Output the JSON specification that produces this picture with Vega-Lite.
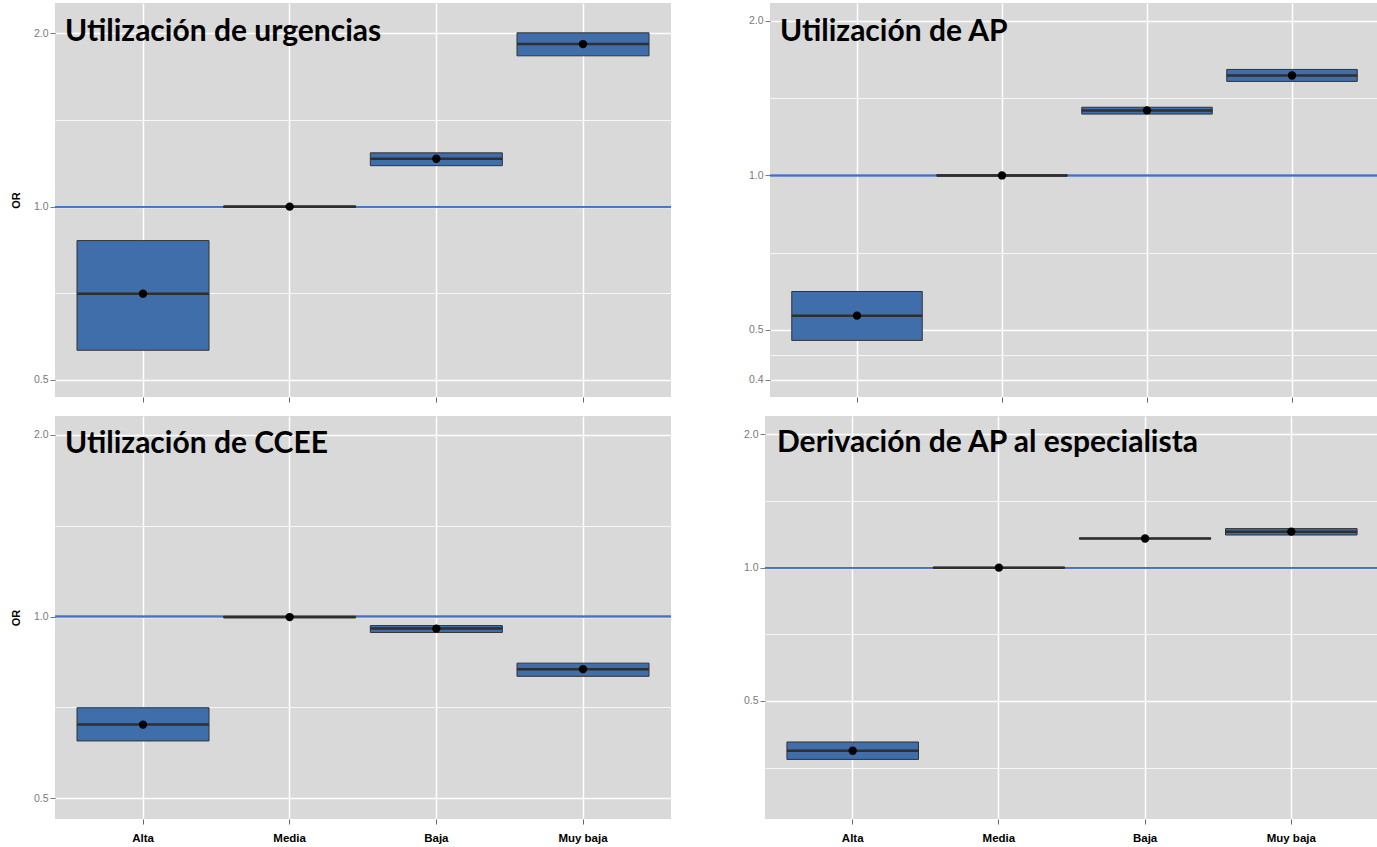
{
  "$schema": "https://vega.github.io/schema/vega-lite/v6.json",
  "padding": {"left": 10, "top": 3, "right": 0, "bottom": 0},
  "background": "white",
  "datasets": {
    "boxes": [
      {"panel": "urg", "cat": "Alta", "lower": 0.563, "median": 0.706, "upper": 0.873},
      {"panel": "urg", "cat": "Media", "lower": 0.997, "median": 1.0, "upper": 1.003},
      {"panel": "urg", "cat": "Baja", "lower": 1.178, "median": 1.211, "upper": 1.24},
      {"panel": "urg", "cat": "Muy baja", "lower": 1.828, "median": 1.916, "upper": 2.004},
      {"panel": "ap", "cat": "Alta", "lower": 0.477, "median": 0.533, "upper": 0.594},
      {"panel": "ap", "cat": "Media", "lower": 0.997, "median": 1.0, "upper": 1.003},
      {"panel": "ap", "cat": "Baja", "lower": 1.317, "median": 1.339, "upper": 1.358},
      {"panel": "ap", "cat": "Muy baja", "lower": 1.525, "median": 1.566, "upper": 1.609},
      {"panel": "ccee", "cat": "Alta", "lower": 0.622, "median": 0.662, "upper": 0.706},
      {"panel": "ccee", "cat": "Media", "lower": 0.995, "median": 0.998, "upper": 1.0},
      {"panel": "ccee", "cat": "Baja", "lower": 0.941, "median": 0.955, "upper": 0.966},
      {"panel": "ccee", "cat": "Muy baja", "lower": 0.796, "median": 0.818, "upper": 0.837},
      {"panel": "der", "cat": "Alta", "lower": 0.369, "median": 0.386, "upper": 0.404},
      {"panel": "der", "cat": "Media", "lower": 0.998, "median": 1.0, "upper": 1.002},
      {"panel": "der", "cat": "Baja", "lower": 1.162, "median": 1.164, "upper": 1.166},
      {"panel": "der", "cat": "Muy baja", "lower": 1.185, "median": 1.206, "upper": 1.225}
    ]
  },
  "config": {
    "view": {"fill": "#D9D9D9", "stroke": null},
    "title": {"font": "Lato", "fontSize": 30, "fontWeight": "bold", "color": "black", "anchor": "start", "frame": "group", "baseline": "alphabetic"},
    "axisY": {"grid": true, "labelFont": "Liberation Sans", "labelFontSize": 10.5, "labelColor": "#7A7A7A", "tickColor": "#7A7A7A", "tickSize": 5, "labelPadding": 2, "domain": false, "gridColor": "white", "titleFont": "Liberation Sans", "titleFontSize": 11, "titleFontWeight": "bold", "titleColor": "black", "titlePadding": 12},
    "axisX": {"domain": false, "tickColor": "#666666", "tickSize": 5, "labelFont": "Liberation Sans", "labelFontSize": 11.5, "labelFontWeight": "bold", "labelColor": "black", "labelPadding": 8, "labelAngle": 0, "grid": true, "gridColor": "white", "gridWidth": 1.5, "bandPosition": 0.5}
  },
  "vconcat": [
    {
      "hconcat": [
        {
          "width": 616, "height": 394,
          "title": {"text": "Utilización de urgencias", "offset": -44, "dx": 10},
          "transform": [{"filter": "datum.panel == 'urg'"}],
          "data": {"name": "boxes"},
          "layer": [
            {"mark": {"type": "rule", "color": "#4472C4", "strokeWidth": 1.5}, "encoding": {"y": {"datum": 1}}},
            {
              "mark": {"type": "bar", "fill": "#3F6EAB", "stroke": "#333333", "strokeWidth": 1},
              "encoding": {
                "x": {"field": "cat", "type": "nominal", "sort": ["Alta", "Media", "Baja", "Muy baja"], "scale": {"paddingInner": 0.1, "paddingOuter": 0.15}, "axis": {"title": null, "labels": false}},
                "y": {"field": "lower", "type": "quantitative", "scale": {"type": "log", "domain": [0.467, 2.258], "nice": false, "zero": false}, "title": "OR",
                  "axis": {"grid": true, "values": [0.5, 0.7071, 1, 1.4142, 2], "labelExpr": "indexof([0.5,1,2], datum.value) >= 0 ? format(datum.value, '.1f') : ''", "tickOpacity": {"condition": {"test": "indexof([0.5,1,2], datum.value) >= 0", "value": 1}, "value": 0}, "gridWidth": {"condition": {"test": "indexof([0.5,1,2], datum.value) >= 0", "value": 1.6}, "value": 0.8}}},
                "y2": {"field": "upper"}
              }
            },
            {"mark": {"type": "tick", "color": "#2F2F2F", "thickness": 2.5, "size": 132, "opacity": 1}, "encoding": {"x": {"field": "cat", "type": "nominal", "sort": ["Alta", "Media", "Baja", "Muy baja"]}, "y": {"field": "median", "type": "quantitative"}}},
            {"mark": {"type": "point", "filled": true, "color": "black", "size": 70, "opacity": 1}, "encoding": {"x": {"field": "cat", "type": "nominal", "sort": ["Alta", "Media", "Baja", "Muy baja"]}, "y": {"field": "median", "type": "quantitative"}}}
          ]
        },
        {
          "width": 609, "height": 394,
          "title": {"text": "Utilización de AP", "offset": -44, "dx": 10},
          "transform": [{"filter": "datum.panel == 'ap'"}],
          "data": {"name": "boxes"},
          "layer": [
            {"mark": {"type": "rule", "color": "#4472C4", "strokeWidth": 1.5}, "encoding": {"y": {"datum": 1}}},
            {
              "mark": {"type": "bar", "fill": "#3F6EAB", "stroke": "#333333", "strokeWidth": 1},
              "encoding": {
                "x": {"field": "cat", "type": "nominal", "sort": ["Alta", "Media", "Baja", "Muy baja"], "scale": {"paddingInner": 0.1, "paddingOuter": 0.15}, "axis": {"title": null, "labels": false}},
                "y": {"field": "lower", "type": "quantitative", "scale": {"type": "log", "domain": [0.37, 2.168], "nice": false, "zero": false}, "title": null,
                  "axis": {"grid": true, "values": [0.4, 0.4472, 0.5, 0.7071, 1, 1.4142, 2], "labelExpr": "indexof([0.4,0.5,1,2], datum.value) >= 0 ? format(datum.value, '.1f') : ''", "tickOpacity": {"condition": {"test": "indexof([0.4,0.5,1,2], datum.value) >= 0", "value": 1}, "value": 0}, "gridWidth": {"condition": {"test": "indexof([0.4,0.5,1,2], datum.value) >= 0", "value": 1.6}, "value": 0.8}}},
                "y2": {"field": "upper"}
              }
            },
            {"mark": {"type": "tick", "color": "#2F2F2F", "thickness": 2.5, "size": 130.5, "opacity": 1}, "encoding": {"x": {"field": "cat", "type": "nominal", "sort": ["Alta", "Media", "Baja", "Muy baja"]}, "y": {"field": "median", "type": "quantitative"}}},
            {"mark": {"type": "point", "filled": true, "color": "black", "size": 70, "opacity": 1}, "encoding": {"x": {"field": "cat", "type": "nominal", "sort": ["Alta", "Media", "Baja", "Muy baja"]}, "y": {"field": "median", "type": "quantitative"}}}
          ]
        }
      ],
      "spacing": 76
    },
    {
      "hconcat": [
        {
          "width": 616, "height": 403,
          "title": {"text": "Utilización de CCEE", "offset": -43, "dx": 10},
          "transform": [{"filter": "datum.panel == 'ccee'"}],
          "data": {"name": "boxes"},
          "layer": [
            {"mark": {"type": "rule", "color": "#4472C4", "strokeWidth": 1.5}, "encoding": {"y": {"datum": 1}}},
            {
              "mark": {"type": "bar", "fill": "#3F6EAB", "stroke": "#333333", "strokeWidth": 1},
              "encoding": {
                "x": {"field": "cat", "type": "nominal", "sort": ["Alta", "Media", "Baja", "Muy baja"], "scale": {"paddingInner": 0.1, "paddingOuter": 0.15}, "axis": {"title": null}},
                "y": {"field": "lower", "type": "quantitative", "scale": {"type": "log", "domain": [0.4617, 2.15], "nice": false, "zero": false}, "title": "OR",
                  "axis": {"grid": true, "values": [0.5, 0.7071, 1, 1.4142, 2], "labelExpr": "indexof([0.5,1,2], datum.value) >= 0 ? format(datum.value, '.1f') : ''", "tickOpacity": {"condition": {"test": "indexof([0.5,1,2], datum.value) >= 0", "value": 1}, "value": 0}, "gridWidth": {"condition": {"test": "indexof([0.5,1,2], datum.value) >= 0", "value": 1.6}, "value": 0.8}}},
                "y2": {"field": "upper"}
              }
            },
            {"mark": {"type": "tick", "color": "#2F2F2F", "thickness": 2.5, "size": 132, "opacity": 1}, "encoding": {"x": {"field": "cat", "type": "nominal", "sort": ["Alta", "Media", "Baja", "Muy baja"]}, "y": {"field": "median", "type": "quantitative"}}},
            {"mark": {"type": "point", "filled": true, "color": "black", "size": 70, "opacity": 1}, "encoding": {"x": {"field": "cat", "type": "nominal", "sort": ["Alta", "Media", "Baja", "Muy baja"]}, "y": {"field": "median", "type": "quantitative"}}}
          ]
        },
        {
          "width": 614, "height": 403,
          "title": {"text": "Derivación de AP al especialista", "offset": -42, "dx": 12},
          "transform": [{"filter": "datum.panel == 'der'"}],
          "data": {"name": "boxes"},
          "layer": [
            {"mark": {"type": "rule", "color": "#4472C4", "strokeWidth": 1.5}, "encoding": {"y": {"datum": 1}}},
            {
              "mark": {"type": "bar", "fill": "#3F6EAB", "stroke": "#333333", "strokeWidth": 1},
              "encoding": {
                "x": {"field": "cat", "type": "nominal", "sort": ["Alta", "Media", "Baja", "Muy baja"], "scale": {"paddingInner": 0.1, "paddingOuter": 0.15}, "axis": {"title": null}},
                "y": {"field": "lower", "type": "quantitative", "scale": {"type": "log", "domain": [0.2707, 2.2], "nice": false, "zero": false}, "title": null,
                  "axis": {"grid": true, "values": [0.3536, 0.5, 0.7071, 1, 1.4142, 2], "labelExpr": "indexof([0.5,1,2], datum.value) >= 0 ? format(datum.value, '.1f') : ''", "tickOpacity": {"condition": {"test": "indexof([0.5,1,2], datum.value) >= 0", "value": 1}, "value": 0}, "gridWidth": {"condition": {"test": "indexof([0.5,1,2], datum.value) >= 0", "value": 1.6}, "value": 0.8}}},
                "y2": {"field": "upper"}
              }
            },
            {"mark": {"type": "tick", "color": "#2F2F2F", "thickness": 2.5, "size": 131.6, "opacity": 1}, "encoding": {"x": {"field": "cat", "type": "nominal", "sort": ["Alta", "Media", "Baja", "Muy baja"]}, "y": {"field": "median", "type": "quantitative"}}},
            {"mark": {"type": "point", "filled": true, "color": "black", "size": 70, "opacity": 1}, "encoding": {"x": {"field": "cat", "type": "nominal", "sort": ["Alta", "Media", "Baja", "Muy baja"]}, "y": {"field": "median", "type": "quantitative"}}}
          ]
        }
      ],
      "spacing": 71
    }
  ],
  "spacing": 13
}
